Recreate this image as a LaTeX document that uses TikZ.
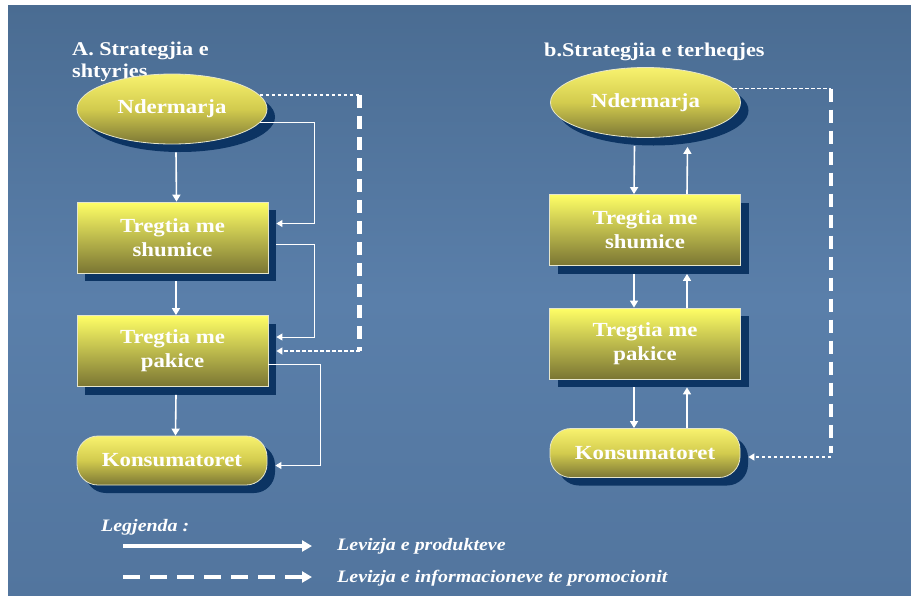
\documentclass[tikz,border=0pt]{standalone}
\usepackage{fontspec}
\setmainfont{Liberation Serif}[FakeStretch=1.14]
\usetikzlibrary{arrows.meta,calc,positioning,shapes.geometric,shadows}
\definecolor{slideTop}  {HTML}{4A6C92}
\definecolor{slideMid}  {HTML}{5A7FAA}
\definecolor{slideBot}  {HTML}{52759E}
\definecolor{boxTop}    {HTML}{FFFF66}
\definecolor{boxBot}    {HTML}{7A7533}
\definecolor{ovalTop}   {HTML}{F8F26E}
\definecolor{ovalMid}   {HTML}{D2CB4E}
\definecolor{ovalBot}   {HTML}{7C7735}
\definecolor{shadowNavy}{HTML}{0C3463}
\definecolor{rimGray}   {HTML}{E6E6CC}
\tikzset{
  font=\bfseries\fontsize{20}{24}\selectfont,
  arrow/.style={-{Triangle[length=7pt,width=8pt]},draw=white,line width=1.6pt},
  link/.style={-{Triangle[length=6pt,width=7pt]},draw=white,line width=1pt},
  info/.style={draw=white,line width=1.4pt,dash pattern=on 3.5pt off 2.5pt},
  infoarrow/.style={info,-{Triangle[length=6pt,width=7pt]}},
  infothick/.style={draw=white,line width=4.5pt,dash pattern=on 13pt off 8pt},
  navyshadow/.style={drop shadow={shadow xshift=8pt,shadow yshift=-8pt,fill=shadowNavy,opacity=1}},
  trade/.style={rectangle,draw=rimGray,line width=0.8pt,top color=boxTop,bottom color=boxBot,
    navyshadow,text=white,minimum width=191pt,minimum height=71pt,align=center,inner sep=0pt},
  firm/.style={ellipse,draw=rimGray,line width=0.8pt,top color=ovalTop,bottom color=ovalBot,
    middle color=ovalMid,navyshadow,text=white,minimum width=190pt,minimum height=70pt,inner sep=0pt},
  buyer/.style={rectangle,rounded corners=21pt,draw=rimGray,line width=0.8pt,top color=ovalTop,
    bottom color=ovalBot,middle color=ovalMid,navyshadow,text=white,
    minimum width=190pt,minimum height=49pt,inner sep=0pt},
  title/.style={text=white,align=left,inner sep=0pt,font=\bfseries\fontsize{19.5}{22}\selectfont},
  legend/.style={text=white,inner sep=0pt,anchor=west,font=\bfseries\itshape\fontsize{17.5}{20}\selectfont},
  keyline/.style={-{Triangle[length=10pt,width=11pt]},draw=white,line width=3.5pt},
  keydash/.style={keyline,dash pattern=on 17pt off 10pt},
}
\begin{document}
\begin{tikzpicture}[x=1pt,y=-1pt]

\useasboundingbox (0,0) rectangle (911,595);
\fill[white] (0,0) rectangle (911,595);
\shade[top color=slideTop,bottom color=slideBot,middle color=slideMid] (8,5) rectangle (911,595);

% A. push
\node[title,anchor=north west] (ttlA) at (72,42) {A. Strategjia e\\shtyrjes};

\node[firm]  (ndA) at (172,109)     {Ndermarja};
\node[trade] (shA) at (172.5,237.5) {Tregtia me\\shumice};
\node[trade] (paA) at (172.5,351)   {Tregtia me\\pakice};
\node[buyer] (koA) at (172,460.5)   {Konsumatoret};

\draw[arrow] ([xshift=4pt,yshift=-8pt]ndA.south) -- ([xshift=4pt]shA.north);
\draw[arrow] ([xshift=3.5pt,yshift=-8pt]shA.south) -- ([xshift=3.5pt]paA.north);
\draw[arrow] ([xshift=3.5pt,yshift=-8pt]paA.south) -- ([xshift=3.5pt]koA.north);

\draw[link] (ndA.-9) -| ($(shA.east)+(46,-14)$) -- ($(shA.east)+(8,-14)$);
\draw[link] ($(shA.east)+(8,6.5)$) -| ($(paA.east)+(46,-14)$) -- ($(paA.east)+(8,-14)$);
\draw[link] ($(paA.east)+(0,13)$) -| ($(koA.east)+(53,5)$) -- ($(koA.east)+(8,5)$);

\draw[info] (ndA.9) -- ++(100,0) coordinate (dA);
\draw[infothick] (dA) -- (dA |- paA.east);
\draw[infoarrow] (dA |- paA.east) -- ([xshift=8pt]paA.east);

% b. pull
\node[title,anchor=north west] (ttlB) at (544,43) {b.Strategjia e terheqjes};

\node[firm]  (ndB) at (645.5,102.5) {Ndermarja};
\node[trade] (shB) at (645,230)     {Tregtia me\\shumice};
\node[trade] (paB) at (645,343.5)   {Tregtia me\\pakice};
\node[buyer] (koB) at (645,453)     {Konsumatoret};

\draw[arrow] ([xshift=-11pt,yshift=-8pt]ndB.south) -- ([xshift=-11pt]shB.north);
\draw[arrow] ([xshift=42pt]shB.north) -- ([xshift=42pt,yshift=-9pt]ndB.south);
\draw[arrow] ([xshift=-11pt,yshift=-8pt]shB.south) -- ([xshift=-11pt]paB.north);
\draw[arrow] ([xshift=42pt]paB.north) -- ([xshift=42pt,yshift=-8pt]shB.south);
\draw[arrow] ([xshift=-11pt,yshift=-8pt]paB.south) -- ([xshift=-11pt]koB.north);
\draw[arrow] ([xshift=42pt]koB.north) -- ([xshift=42pt,yshift=-8pt]paB.south);

\draw[info] (ndB.9) -- ++(98,0) coordinate (dB);
\draw[infothick] (dB) -- (dB |- koB.east);
\draw[infoarrow] ([yshift=-4pt]dB |- koB.east) -- ([xshift=8pt,yshift=-4pt]koB.east);

% legjenda
\node[legend] (lgd) at (101,527) {Legjenda :};
\node[legend] (lgP) at (337,546) {Levizja e produkteve};
\node[legend] (lgI) at (337,578) {Levizja e informacioneve te promocionit};
\draw[keyline] ([xshift=-214pt]lgP.west) -- ([xshift=-25pt]lgP.west);
\draw[keydash] ([xshift=-214pt,yshift=1pt]lgI.west) -- ([xshift=-25pt,yshift=1pt]lgI.west);

\end{tikzpicture}
\end{document}
